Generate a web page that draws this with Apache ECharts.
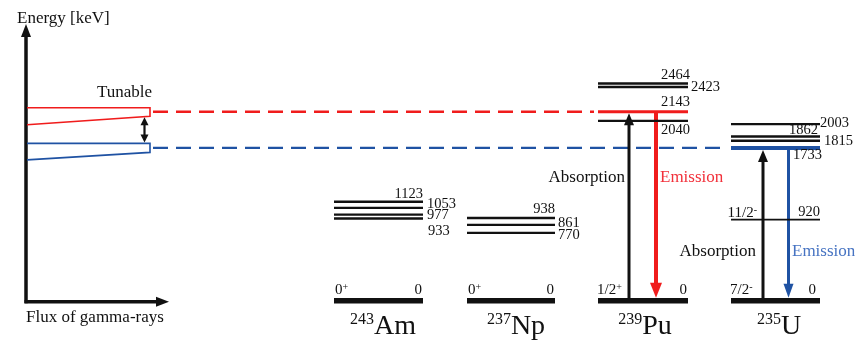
<!DOCTYPE html>
<html>
<head>
<meta charset="utf-8">
<script src="https://cdn.jsdelivr.net/npm/echarts@6/dist/echarts.min.js"></script>
<style>
html,body{margin:0;padding:0;background:#fff;}
#chart{width:868px;height:344px;}
</style>
</head>
<body>
<div id="chart"></div>
<script>
// ---------------- DATA ----------------
const nuclides = ['Am', 'Np', 'Pu', 'U'];
const massNumbers = ['243', '237', '239', '235'];
const groundSpins = ['0{s|+}', '0{s|+}', '1/2{s|+}', '7/2{s|-}'];
const groundEnergy = 0;
const amLevels = [1123, 1053, 977, 933];
const npLevels = [938, 861, 770];
const puLevels = [2464, 2423, 2143, 2040];
const uLevels = [2003, 1862, 1815, 1733, 920];
const uSpin920 = '11/2{s|-}';
const puResonance = 2143;   // tuned red line, Pu absorption/emission
const uResonance = 1733;    // tuned blue line, U absorption/emission
const axisTitles = ['Energy [keV]', 'Flux of gamma-rays'];
const tunableLabel = 'Tunable';
const absorptionLabel = 'Absorption';
const emissionLabel = 'Emission';

// ---------------- LAYOUT / STYLE ----------------
const FONT = '"Liberation Serif", "Times New Roman", "DejaVu Serif", serif';
const BLACK = '#111111', RED = '#f01c1c', BLUE = '#1f52a3', BLUE_TXT = '#4673c2', RED_TXT = '#f2303a';
const COLS = [[334, 423], [467, 555], [598, 688], [731, 820]];
const NAME_X = [383, 516, 645, 779];
const LBL = [
  {1123: ['right', 0, -7.5], 1053: ['left', 4, -4], 977: ['left', 4, 1], 933: ['left', 5, 12.5]},
  {938: ['right', 0, -8.7], 861: ['left', 3, -2], 770: ['left', 3, 2.5]},
  {2464: ['right', 2, -8], 2423: ['left', 3, 0.5], 2143: ['right', 2, -10], 2040: ['right', 2, 9]},
  {2003: ['left', 0, -1], 1862: ['right', -2, -6.5], 1815: ['left', 4, 1], 1733: ['left', -27, 7], 920: ['right', 0, -7]}
];
const levelSets = [amLevels, npLevels, puLevels, uLevels];

const levelData = [];
levelSets.forEach((arr, i) => {
  levelData.push([i, groundEnergy]);
  arr.forEach(e => levelData.push([i, e]));
});

function txt(x, y, text, size, color, align, vAlign, rich) {
  return {
    type: 'text', x: x, y: y, silent: true,
    style: {
      text: text, fill: color || BLACK,
      font: size + 'px ' + FONT,
      align: align || 'left', verticalAlign: vAlign || 'middle',
      rich: rich
    }
  };
}
function seg(p, q, w, color, dash) {
  return {
    type: 'line', silent: true,
    shape: {x1: p[0], y1: p[1], x2: q[0], y2: q[1]},
    style: {stroke: color, lineWidth: w, lineDash: dash || null}
  };
}
function tri(points, color) {
  return {type: 'polygon', silent: true, shape: {points: points}, style: {fill: color}};
}
const SUP = {s: {fontSize: 10, fontFamily: FONT, verticalAlign: 'top', lineHeight: 12}};

function renderLevel(params, api) {
  const ci = api.value(0), E = api.value(1);
  const c = COLS[ci];
  const p0 = api.coord([c[0], E]), p1 = api.coord([c[1], E]);
  const y = p0[1];
  const children = [];
  let w = 2.4, col = BLACK;
  if (E === groundEnergy) { w = 5.5; }
  else if (ci === 2 && E === puResonance) { w = 3; col = RED; }
  else if (ci === 3 && E === uResonance) { w = 4; col = BLUE; }
  else if (ci === 3 && E === 920) { w = 1.6; }
  children.push(seg(p0, p1, w, col));
  if (E === groundEnergy) {
    children.push(txt(p0[0] + (ci >= 2 ? -1 : 1), y - 11, groundSpins[ci], 15, BLACK, 'left', 'middle', SUP));
    children.push(txt(p1[0] - (ci === 3 ? 4 : 1), y - 11, '0', 15, BLACK, 'right', 'middle'));
    // nuclide name under ground state
    children.push(txt(NAME_X[ci], y + 26, '{m|' + massNumbers[ci] + '}{e|' + nuclides[ci] + '}', 28, BLACK, 'center', 'middle', {
      m: {fontSize: 16, fontFamily: FONT, verticalAlign: 'top', lineHeight: 30},
      e: {fontSize: 28, fontFamily: FONT, lineHeight: 30}
    }));
  } else {
    const spec = LBL[ci][E];
    children.push(txt(p1[0] + spec[1], y + spec[2], String(E), 14.5, BLACK, spec[0], 'middle'));
    if (ci === 3 && E === 920) {
      children.push(txt(757, y - 7, uSpin920, 15, BLACK, 'right', 'middle', SUP));
    }
  }
  return {type: 'group', children: children};
}

function arrowUp(x, yFrom, yTip, color, lw, hw, hl) {
  return [seg([x, yFrom], [x, yTip + hl - 1], lw, color),
          tri([[x, yTip], [x - hw / 2, yTip + hl], [x + hw / 2, yTip + hl]], color)];
}
function arrowDown(x, yFrom, yTip, color, lw, hw, hl) {
  return [seg([x, yFrom], [x, yTip - hl + 1], lw, color),
          tri([[x, yTip], [x - hw / 2, yTip - hl], [x + hw / 2, yTip - hl]], color)];
}

function renderDecor(params, api) {
  const ch = [];
  const g = api.coord([26, groundEnergy]);
  const yG = g[1] + 1;
  // Energy / flux axes
  ch.push(seg([26, yG + 1.5], [26, 34], 3.5, BLACK));
  ch.push(tri([[26, 24], [21, 37], [31, 37]], BLACK));
  ch.push(seg([24.5, yG], [158, yG], 3.5, BLACK));
  ch.push(tri([[169, yG], [156, yG - 5], [156, yG + 5]], BLACK));
  ch.push(txt(17, 19, axisTitles[0], 17, BLACK, 'left', 'middle'));
  ch.push(txt(26, 318, axisTitles[1], 17, BLACK, 'left', 'middle'));

  const yR = api.coord([0, puResonance])[1];
  const yB = api.coord([0, uResonance])[1];
  const xb0 = 27, xb1 = 150;
  // red tunable band
  ch.push({type: 'polyline', silent: true, shape: {points: [[xb0, yR - 4], [xb1, yR - 4], [xb1, yR + 4.5], [xb0, yR + 13]]},
           style: {stroke: RED, lineWidth: 1.6, fill: null}});
  // blue tunable band
  ch.push({type: 'polyline', silent: true, shape: {points: [[xb0, yB - 4.5], [xb1, yB - 4.5], [xb1, yB + 4.5], [xb0, yB + 12]]},
           style: {stroke: BLUE, lineWidth: 1.6, fill: null}});
  ch.push(txt(97, yR - 19, tunableLabel, 17, BLACK, 'left', 'middle'));
  // double arrow
  const ya = yR + 5.5, yb = yB - 5.5;
  ch.push(seg([144.5, ya + 6], [144.5, yb - 6], 2.2, BLACK));
  ch.push(tri([[144.5, ya], [140.5, ya + 8], [148.5, ya + 8]], BLACK));
  ch.push(tri([[144.5, yb], [140.5, yb - 8], [148.5, yb - 8]], BLACK));
  // dashed lines to the nuclei
  ch.push(seg([153, yR], [COLS[2][0] - 4, yR], 2.4, RED, [15, 8]));
  ch.push(seg([153, yB], [COLS[3][0] - 7, yB], 2.4, BLUE, [15, 8]));

  // Pu transitions
  const gPu = api.coord([COLS[2][0], groundEnergy])[1];
  ch.push(...arrowUp(629, gPu - 2, yR + 1.5, BLACK, 3, 10, 12));
  ch.push(...arrowDown(656, yR, gPu - 3, RED, 4, 12, 15));
  ch.push(txt(625, 178, absorptionLabel, 17, BLACK, 'right', 'middle'));
  ch.push(txt(660, 178, emissionLabel, 17, RED_TXT, 'left', 'middle'));
  // U transitions
  const gU = api.coord([COLS[3][0], groundEnergy])[1];
  ch.push(...arrowUp(763, gU - 2, yB + 2, BLACK, 3, 10, 12));
  ch.push(...arrowDown(788.5, yB, gU - 3, BLUE, 3, 10, 14));
  ch.push(txt(756, 252, absorptionLabel, 17, BLACK, 'right', 'middle'));
  ch.push(txt(792, 252, emissionLabel, 17, BLUE_TXT, 'left', 'middle'));
  return {type: 'group', children: ch};
}

const chart = echarts.init(document.getElementById('chart'), null, {renderer: 'canvas'});
chart.setOption({
  animation: false,
  backgroundColor: '#ffffff',
  grid: {left: 0, right: 0, top: 0, bottom: 0},
  xAxis: {type: 'value', min: 0, max: 868, show: false},
  yAxis: {type: 'value', min: -490, max: 3410, show: false},
  series: [
    {type: 'custom', name: 'decor', renderItem: renderDecor, data: [[0, 0]], z: 1, clip: false},
    {type: 'custom', name: 'levels', renderItem: renderLevel, data: levelData, z: 2, clip: false,
     encode: {x: 0, y: 1}}
  ]
});
</script>
</body>
</html>
